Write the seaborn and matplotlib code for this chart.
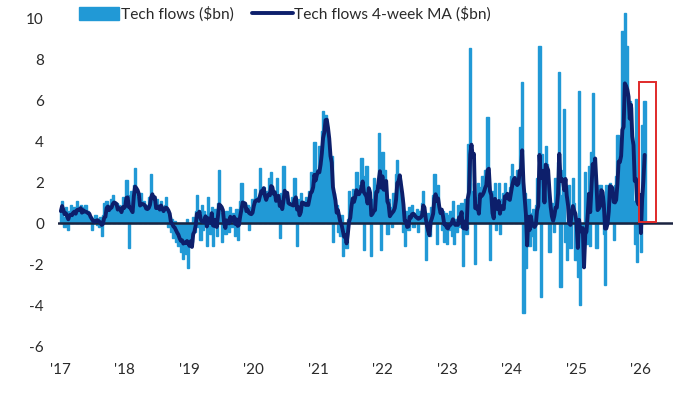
import numpy as np
import pandas as pd
import matplotlib
matplotlib.use("Agg")
import matplotlib.pyplot as plt
import matplotlib.dates as mdates
from matplotlib.patches import Patch, Rectangle
from matplotlib.lines import Line2D
import seaborn as sns

# ---- data (weekly tech flows, $bn) ----
flows_2017 = [0.6, 1.1, 0.3, -0.2, 0.8, 0.5,
              -0.3, 0.6, 0.9, 0.4, 0.2, 0.8,
              0.5, 1.1, 0.3, 0.7, 0.9, 0.2,
              0.8, 0.4, 0.9, 0.1, 0.6, 0.3,
              0.3, -0.3, 0.2, 0.1, 0.4, -0.1,
              0.2, -0.2, 0.3, -0.6, 0.4, 1.0,
              0.5, 1.1, 0.7, 0.3, 0.9, 1.2,
              1.4, 0.6, 0.8, 1.0, 0.3, 0.9,
              0.6, 0.4, 1.3, 0.7]
flows_2018 = [0.9, 2.1, 1.4, -1.2, 0.8, 1.6,
              1.0, 1.9, 2.7, 1.3, 0.6, 1.2,
              0.4, 1.5, 0.7, 1.1, 0.2, 0.9,
              0.6, 1.3, 0.8, 2.4, 1.2, 0.5,
              1.0, 0.3, 1.2, 0.8, 0.4, 1.1,
              0.7, 0.2, 0.9, 1.3, 0.5, -0.2,
              0.3, -0.4, 0.2, -0.7, 0.1, -0.9,
              -0.3, -1.1, -0.6, -1.4, -0.2, -1.75,
              -0.4, -1.5, 0.2, -2.2]
flows_2019 = [-0.9, -0.6, -0.9, 0.3, -0.4, 0.6,
              1.4, -0.2, 0.5, -0.8, 0.9, -0.3,
              0.6, 0.2, -1.1, 1.3, 0.4, -0.5,
              0.8, -1.1, 0.3, 0.7, -0.6, 1.0,
              2.6, 0.5, -0.9, 0.4, 0.1, -0.5,
              0.6, 0.3, -0.4, 0.8, -0.2, 0.5,
              0.2, -0.6, 0.7, -0.8, 0.4, 1.1,
              2.0, 0.6, 0.3, 1.0, 0.5, 0.9,
              -0.3, 0.8, 0.4, 1.2]
flows_2020 = [1.0, 1.7, 0.6, 1.3, 0.8, 2.7,
              1.5, 0.9, 1.8, 1.2, 0.7, 1.6,
              2.2, 1.0, 2.5, 1.4, 0.9, 1.3,
              0.8, 2.2, 1.1, -0.7, 1.5, 0.9,
              2.8, 1.2, 0.6, 1.4, 0.8, 1.0,
              0.5, 1.3, 0.7, 2.2, 0.9, -1.1,
              1.2, 0.6, 1.5, 0.8, 1.1, 0.4,
              1.3, 1.0, 0.9, 1.6, 2.5, 1.2,
              1.8, 4.0, 1.4, 2.3]
flows_2021 = [2.5, 3.8, 2.9, 4.5, 5.5, 4.9,
              5.3, 4.6, 3.9, 2.8, 1.9, 3.3,
              -0.9, 1.5, 0.6, 0.9, -0.4, 0.3,
              -0.6, 0.4, -1.6, -0.8, -0.3, -1.2,
              0.2, 1.6, 0.5, 1.1, 1.7, 0.9,
              1.4, 2.5, 1.0, 0.8, 1.9, 3.2,
              2.3, -1.3, 1.5, 2.8, 0.9, 1.7,
              0.6, -1.6, 1.2, 2.2, 0.8, 1.9,
              1.3, 4.4, 2.6, -1.3]
flows_2022 = [3.5, 1.8, 2.6, 0.4, -0.5, 1.2,
              0.3, 0.8, -0.2, 1.5, 0.9, 2.4,
              3.1, 1.8, 2.1, 0.7, 1.3, -0.4,
              -1.1, 0.6, 0.2, -0.3, 0.8, 0.4,
              0.9, -0.2, 0.5, 0.1, 0.7, -0.4,
              0.6, 0.3, 1.0, 1.6, 0.2, -1.8,
              -0.4, 0.5, -0.6, 0.8, 0.3, 1.4,
              2.4, 1.6, -1.0, 1.9, 0.7, 0.4,
              -0.3, 0.6, -0.9, 0.5]
flows_2023 = [-1.0, 0.4, -0.3, 0.6, -0.6, 1.1,
              -1.0, 0.2, -0.4, 0.9, 0.5, -0.2,
              1.0, -2.1, 0.3, 1.2, -0.5, 3.9,
              1.5, 8.6, 1.4, 1.6, 2.0, -2.0,
              1.3, 2.0, 0.6, 1.8, 0.9, 2.3,
              1.1, 2.6, 1.5, 5.2, 1.4, -1.8,
              0.8, 1.6, 0.4, 2.0, -0.3, 0.7,
              2.0, -0.5, 1.2, 0.6, 1.5, 2.0,
              0.9, 1.4, 0.5, 1.8]
flows_2024 = [2.3, 2.9, 1.5, 2.2, 1.2, 2.6,
              1.8, 4.7, 0.9, 6.9, -4.4, 1.5,
              -2.2, 0.8, 1.2, -1.1, 0.5, -0.6,
              0.7, -1.3, 0.9, 2.2, 1.6, 8.7,
              -3.6, 3.4, 1.8, 2.5, 3.8, 2.9,
              1.2, -1.4, 0.6, 1.0, 0.3, -0.4,
              2.2, 1.0, 3.0, 7.4, -3.1, 1.4,
              2.6, 5.6, -0.9, -1.8, 0.8, 1.9,
              -1.2, 0.5, 2.2, 1.0]
flows_2025 = [-1.8, -1.4, -2.6, 6.5, -4.0, -1.5,
              -1.9, -1.2, 2.5, -1.0, 1.5, 2.8,
              -1.1, 3.5, 6.4, 1.6, 1.2, -1.2,
              1.0, 1.9, 1.7, 1.9, 0.6, -0.5,
              -3.0, 1.9, 1.5, 1.9, 2.0, 1.8,
              1.2, -0.8, 1.9, 2.3, 4.3, 3.6,
              1.8, 3.5, 9.4, 4.2, 10.3, 3.0,
              8.7, 2.8, 6.0, 5.7, 2.5, 1.1,
              -1.0, 6.1, -1.9, 0.5]
flows_2026 = [0.9, -1.4, 4.8, 4.0, 6.0]

year_ticks = ["2017-01-01", "2018-01-01", "2019-01-01", "2020-01-01", "2021-01-01",
              "2022-01-01", "2023-01-01", "2024-01-01", "2025-01-01", "2026-01-01"]
year_labels = ["'17", "'18", "'19", "'20", "'21", "'22", "'23", "'24", "'25", "'26"]
y_ticks = [-6, -4, -2, 0, 2, 4, 6, 8, 10]

bar_label = "Tech flows ($bn)"
ma_label = "Tech flows 4-week MA ($bn)"

# highlight box (date range, value range)
box_x = ["2025-12-24", "2026-03-28"]
box_y = [0.05, 6.9]

# ---- build frame ----
flows = (flows_2017 + flows_2018 + flows_2019 + flows_2020 + flows_2021 +
         flows_2022 + flows_2023 + flows_2024 + flows_2025 + flows_2026)
dates = pd.date_range("2017-01-06", periods=len(flows), freq="W-FRI")
df = pd.DataFrame({"date": dates, "flows": flows})
df["ma"] = df["flows"].rolling(4, min_periods=1).mean()

# ---- style ----
sns.set_theme(style="white")
plt.rcParams["font.family"] = ["Lato", "DejaVu Sans"]

BAR_C = "#2199d6"
MA_C = "#0d1f6b"
ZERO_C = "#1a2340"
TXT_C = "#2a2a2a"

fig = plt.figure(figsize=(6.8, 3.93), dpi=100)
ax = fig.add_axes([0.0851, 0.1038, 0.9042, 0.8792])

ax.bar(df["date"], df["flows"], width=13, color=BAR_C, edgecolor=BAR_C,
       linewidth=1.0, zorder=2)
ax.axhline(0, color=ZERO_C, lw=1.8, zorder=2.5)
sns.lineplot(data=df, x="date", y="ma", ax=ax, color=MA_C, lw=2.8, zorder=3)

x0 = mdates.date2num(pd.Timestamp(box_x[0]))
x1 = mdates.date2num(pd.Timestamp(box_x[1]))
ax.add_patch(Rectangle((x0, box_y[0]), x1 - x0, box_y[1] - box_y[0],
                       fill=False, edgecolor="#e02a2a", lw=1.4, zorder=4))

ax.set_xlim(pd.Timestamp("2016-12-20"), pd.Timestamp("2026-07-01"))
ax.set_ylim(-6.3, 10.6)
ax.set_xticks([pd.Timestamp(d) for d in year_ticks])
ax.set_xticklabels(year_labels)
ax.set_yticks(y_ticks)
ax.set_yticklabels([str(v) for v in y_ticks])
ax.tick_params(axis="both", length=0, labelsize=11, labelcolor=TXT_C)
ax.tick_params(axis="y", pad=10)
ax.tick_params(axis="x", pad=8)
ax.set_xlabel("")
ax.set_ylabel("")
for s in ax.spines.values():
    s.set_visible(False)

handles = [Patch(facecolor=BAR_C, edgecolor=BAR_C, label=bar_label),
           Line2D([0], [0], color=MA_C, lw=2.8, label=ma_label)]
fig.legend(handles=handles, loc="center left", bbox_to_anchor=(0.116, 0.964),
           ncol=2, frameon=False, fontsize=11.2, handlelength=2.6,
           handleheight=0.9, handletextpad=0.1, columnspacing=1.2,
           labelcolor=TXT_C, borderaxespad=0, borderpad=0)

fig.savefig("out.png", dpi=100)
